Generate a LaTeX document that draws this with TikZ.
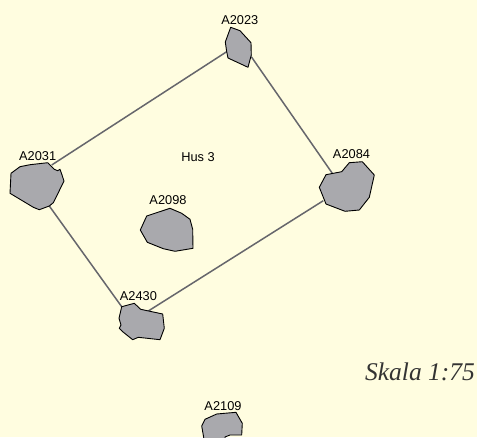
\documentclass[tikz,border=0pt]{standalone}
\usepackage{fontspec}
\setmainfont{Liberation Sans}
\newfontfamily\skalafont{Liberation Serif}
\definecolor{paper}{HTML}{FFFDE0}
\definecolor{wallc}{HTML}{66666C}
\definecolor{postc}{HTML}{A9A9AD}
\begin{document}
\begin{tikzpicture}[x=1pt,y=-1pt,post/.style={draw=black,fill=postc,line width=0.9pt,line join=round},wall/.style={draw=wallc,line width=1.5pt},lab/.style={inner sep=0pt,font=\fontsize{12.8}{14}\selectfont}]
\useasboundingbox (0,0) rectangle (477,437);
\fill[paper] (0,0) rectangle (477,437);
\clip (0,0) rectangle (477,437);

\coordinate (N31) at (51.7,165);
\coordinate (S31) at (49.3,206);
\coordinate (W23) at (226.7,51.7);
\coordinate (E23) at (251.3,56.7);
\coordinate (N84) at (332.3,173.3);
\coordinate (W84) at (323.3,200.7);
\coordinate (N30) at (121.7,306.7);
\coordinate (E30) at (148.3,311);

\draw[wall] (N31) -- (W23);
\draw[wall] (E23) -- (N84);
\draw[wall] (W84) -- (E30);
\draw[wall] (N30) -- (S31);

\draw[post] (47.7,162.7) -- (54.3,169.3) -- (57.7,170.7) -- (60,169.3) -- (61.7,174) -- (64,181) -- (58.3,192.7) -- (53.3,202.7) -- (49.3,206) -- (39.3,209.7) -- (33.3,207.3) -- (10,193.3) -- (11,173.3) -- (20,166.7) -- (30,164.7) -- cycle;
\draw[post] (170,208.3) -- (181.7,213.3) -- (190,219.3) -- (192.7,229.3) -- (193,248.3) -- (175,251.3) -- (163.3,248.7) -- (147.3,242.3) -- (140.3,230) -- (146.7,216) -- cycle;
\draw[post] (121.7,306.7) -- (134.3,303.3) -- (140.7,309.3) -- (162.7,314) -- (164.3,328.3) -- (160,339.7) -- (138.3,337.3) -- (132.7,339.7) -- (122.7,331.7) -- (119.3,328.3) -- (121,325) -- (119,318.3) -- cycle;
\draw[post] (230.7,27.3) -- (240,30.7) -- (251,42.7) -- (251.3,55) -- (248,67.3) -- (228,58) -- (226.7,51.7) -- (225.3,42) -- cycle;
\draw[post] (349.3,162.7) -- (362.3,161.7) -- (374.3,175) -- (369.3,197.3) -- (359.3,210) -- (345,211.3) -- (326,204) -- (319.3,187.3) -- (326,174.7) -- (341.7,171.7) -- cycle;
\draw[post] (201.7,426) -- (205,419.3) -- (216.7,414) -- (236,412.3) -- (242.3,423.3) -- (241.7,435) -- (230,435) -- (225,437) -- (225,445) -- (205,445) -- cycle;

\node[lab] (A2031) at (37.7,155.7) {A2031};
\node[lab] (A2098) at (168,200.3) {A2098};
\node[lab] (A2430) at (138.4,296) {A2430};
\node[lab] (A2023) at (239.8,20.3) {A2023};
\node[lab] (A2084) at (351.5,154.3) {A2084};
\node[lab] (A2109) at (223,406.3) {A2109};
\node[lab] (hus) at (198,157.3) {Hus 3};
\node[inner sep=0pt,anchor=base,font=\skalafont\itshape\fontsize{25.5}{28}\selectfont,black!80] (skala) at (420,380.7) {Skala 1:75};
\end{tikzpicture}
\end{document}
